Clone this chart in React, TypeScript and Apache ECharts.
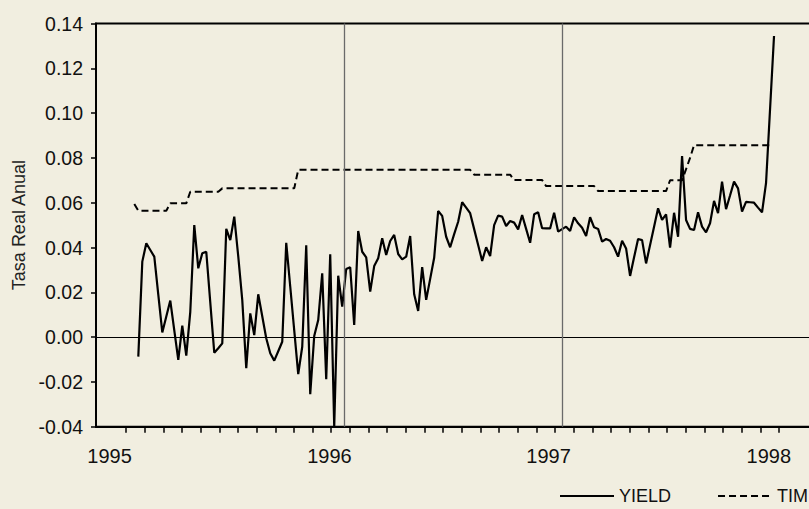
import React, { useEffect, useRef } from "react";
import * as echarts from "echarts";

// Observation index j (one per observation). YIELD starts at j = 0.
const YIELD: number[] = [
  -0.0087, 0.0337, 0.0419, 0.0389, 0.0359, 0.019, 0.0021, 0.0092, 0.0163, 0.003,
  -0.0102, 0.0051, -0.0083, 0.0113, 0.05, 0.0307, 0.0374, 0.0381, 0.0155, -0.007,
  -0.005, -0.0028, 0.0483, 0.0433, 0.0538, 0.036, 0.0166, -0.0139, 0.0106, 0.0009,
  0.0191, 0.0093, -0.0005, -0.0072, -0.0105, -0.0063, -0.0021, 0.0421, 0.0226, 0.003,
  -0.0165, -0.0043, 0.041, -0.0255, 0.0005, 0.0076, 0.0285, -0.0188, 0.037, -0.04,
  0.0274, 0.0136, 0.0304, 0.0312, 0.0054, 0.0474, 0.0381, 0.0356, 0.0203, 0.0317,
  0.0352, 0.0441, 0.0367, 0.0429, 0.0456, 0.0371, 0.0347, 0.0359, 0.0451, 0.0191,
  0.0117, 0.0312, 0.0166, 0.026, 0.0354, 0.0563, 0.0541, 0.0448, 0.0401, 0.046,
  0.0515, 0.0602, 0.0578, 0.0553, 0.0482, 0.0411, 0.034, 0.0401, 0.0362, 0.05,
  0.0542, 0.0538, 0.0496, 0.0518, 0.0511, 0.0481, 0.0545, 0.0483, 0.0421, 0.0548,
  0.0557, 0.0486, 0.0485, 0.0485, 0.0555, 0.0471, 0.0482, 0.0493, 0.0474, 0.0535,
  0.0508, 0.0488, 0.0451, 0.0535, 0.049, 0.0483, 0.0426, 0.0438, 0.043, 0.0401,
  0.0359, 0.043, 0.0396, 0.0273, 0.0356, 0.0438, 0.0433, 0.0329, 0.0411, 0.0493,
  0.0575, 0.0523, 0.0548, 0.0399, 0.0555, 0.0448, 0.0808, 0.0523, 0.0483, 0.0478,
  0.0557, 0.0493, 0.0468, 0.0508, 0.0608, 0.0553, 0.0694, 0.0571, 0.0632, 0.0694,
  0.0664, 0.056, 0.0604, 0.0602, 0.06, 0.0578, 0.0557, 0.0687, 0.1015, 0.1344,
];

// TIM starts one observation earlier (j = -1).
const TIM_FIRST_OBS = -1;
const TIM: number[] = [
  0.0594,
  0.0564, 0.0564, 0.0564, 0.0564, 0.0564, 0.0564, 0.0564, 0.0564,
  0.0597, 0.0597, 0.0597, 0.0597, 0.0597,
  0.0649, 0.0649, 0.0649, 0.0649, 0.0649, 0.0649, 0.0649, 0.0649,
  0.0664, 0.0664, 0.0664, 0.0664, 0.0664, 0.0664, 0.0664, 0.0664, 0.0664, 0.0664,
  0.0664, 0.0664, 0.0664, 0.0664, 0.0664, 0.0664, 0.0664, 0.0664, 0.0664,
  0.0747, 0.0747, 0.0747, 0.0747, 0.0747, 0.0747, 0.0747, 0.0747, 0.0747, 0.0747,
  0.0747, 0.0747, 0.0747, 0.0747, 0.0747, 0.0747, 0.0747, 0.0747, 0.0747, 0.0747,
  0.0747, 0.0747, 0.0747, 0.0747, 0.0747, 0.0747, 0.0747, 0.0747, 0.0747, 0.0747,
  0.0747, 0.0747, 0.0747, 0.0747, 0.0747, 0.0747, 0.0747, 0.0747, 0.0747, 0.0747,
  0.0747, 0.0747, 0.0747, 0.0747,
  0.0725, 0.0725, 0.0725, 0.0725, 0.0725, 0.0725, 0.0725, 0.0725, 0.0725, 0.0725,
  0.0701, 0.0701, 0.0701, 0.0701, 0.0701, 0.0701, 0.0701, 0.0701,
  0.0674, 0.0674, 0.0674, 0.0674, 0.0674, 0.0674, 0.0674, 0.0674, 0.0674, 0.0674,
  0.0674, 0.0674, 0.0674,
  0.0652, 0.0652, 0.0652, 0.0652, 0.0652, 0.0652, 0.0652, 0.0652, 0.0652, 0.0652,
  0.0652, 0.0652, 0.0652, 0.0652, 0.0652, 0.0652, 0.0652, 0.0652,
  0.07, 0.07, 0.07, 0.07,
  0.075, 0.08,
  0.0857, 0.0857, 0.0857, 0.0857, 0.0857, 0.0857, 0.0857, 0.0857, 0.0857, 0.0857,
  0.0857, 0.0857, 0.0857, 0.0857, 0.0857, 0.0857, 0.0857, 0.0857, 0.0857, 0.0857,
];

const YEAR_LABELS = ["1995", "1996", "1997", "1998"];
const YEAR_LABEL_OBS = [-7.2, 47.8, 102.6, 157.7];
const MARKER_OBS = [51.5, 106.05];
const TICK_START_OBS = -3.08;
const TICK_STEP_OBS = 4.667;
const TICK_COUNT = 36;

const FONT = "'Liberation Sans', Arial, sans-serif";

export default function App() {
  const ref = useRef<HTMLDivElement>(null);

  useEffect(() => {
    document.body.style.margin = "0";
    document.body.style.overflow = "hidden";
    const chart = echarts.init(ref.current!, undefined, { renderer: "svg" });

    const yieldData = YIELD.map((v, j) => [j, v]);
    const timData = TIM.map((v, i) => [i + TIM_FIRST_OBS, v]);
    const ticks: number[] = [];
    for (let k = 0; k < TICK_COUNT; k++) ticks.push(TICK_START_OBS + k * TICK_STEP_OBS);

    chart.setOption({
      animation: false,
      backgroundColor: "#F1EEE0",
      textStyle: { fontFamily: FONT },
      grid: {
        left: 96,
        top: 23.5,
        width: 726,
        height: 403.2,
        outerBoundsMode: "none",
        containLabel: false,
        show: true,
        borderColor: "#000",
        borderWidth: 2,
        backgroundColor: "transparent",
      },
      legend: {
        left: 554,
        top: 482,
        itemWidth: 54,
        itemHeight: 14,
        itemGap: 46,
        itemStyle: { color: "transparent", borderColor: "transparent", borderWidth: 0 },
        textStyle: { fontSize: 18, color: "#111", fontFamily: FONT },
        data: ["YIELD", "TIM"],
      },
      xAxis: {
        type: "value",
        min: -10.58,
        max: 171.0,
        axisLine: { onZero: false, lineStyle: { color: "#000", width: 2 } },
        axisTick: {
          show: true,
          length: 6,
          customValues: ticks,
          lineStyle: { color: "#000", width: 1.5 },
        },
        axisLabel: {
          customValues: YEAR_LABEL_OBS,
          formatter: (v: number) => {
            const i = YEAR_LABEL_OBS.findIndex((p) => Math.abs(p - v) < 1e-6);
            return i >= 0 ? YEAR_LABELS[i] : "";
          },
          fontSize: 20,
          margin: 19,
          color: "#111",
          fontFamily: FONT,
        },
        splitLine: { show: false },
      },
      yAxis: {
        type: "value",
        min: -0.04,
        max: 0.14,
        interval: 0.02,
        name: "Tasa Real Anual",
        nameLocation: "middle",
        nameRotate: 90,
        nameGap: 66,
        nameTextStyle: { fontSize: 18, color: "#222", fontFamily: FONT },
        axisLine: { show: true, onZero: false, lineStyle: { color: "#000", width: 2 } },
        axisTick: { show: true, length: 5, lineStyle: { color: "#000", width: 1.5 } },
        axisLabel: {
          formatter: (v: number) => v.toFixed(2),
          fontSize: 19.5,
          margin: 13,
          color: "#111",
          fontFamily: FONT,
        },
        splitLine: { show: false },
      },
      series: [
        {
          name: "YIELD",
          type: "line",
          data: yieldData,
          symbol: "none",
          lineStyle: { color: "#000", width: 2.2 },
          itemStyle: { color: "#000" },
          markLine: {
            silent: true,
            symbol: ["none", "none"],
            label: { show: false },
            data: [
              { yAxis: 0, lineStyle: { color: "#000", width: 1, type: "solid" } },
              ...MARKER_OBS.map((x) => ({
                xAxis: x,
                lineStyle: { color: "#6a6a6a", width: 1.3, type: "solid" },
              })),
            ],
          },
        },
        {
          name: "TIM",
          type: "line",
          data: timData,
          symbol: "none",
          lineStyle: { color: "#000", width: 2, type: [7, 4] },
          itemStyle: { color: "#000" },
        },
      ],
    });

    return () => chart.dispose();
  }, []);

  return (
    <div
      ref={ref}
      style={{ position: "fixed", left: 0, top: 0, width: 830, height: 509 }}
    />
  );
}
